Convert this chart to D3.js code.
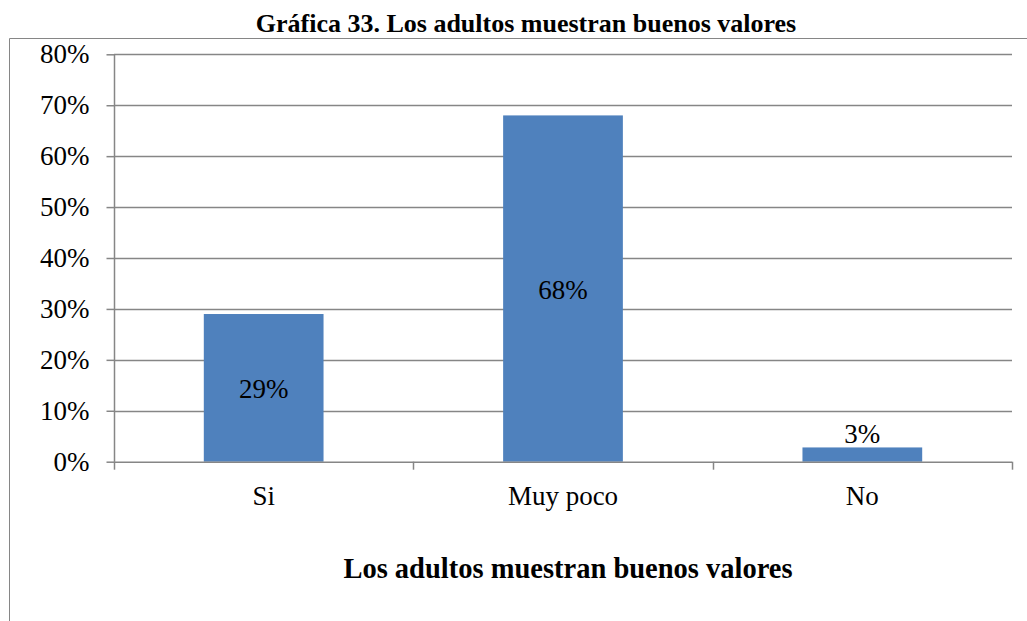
<!DOCTYPE html>
<html><head><meta charset="utf-8">
<script src="https://cdn.jsdelivr.net/npm/d3@7"></script>
<style>body{margin:0;background:#fff}svg{display:block}text{font-family:"Liberation Serif","Times New Roman",serif !important;fill:#000}</style>
</head><body>
<svg id="c" width="1027" height="621" font-family="Liberation Serif, serif"></svg>
<script>
const chartTitle = "Gráfica 33. Los adultos muestran buenos valores";
const axisTitle = "Los adultos muestran buenos valores";
const categories = ["Si", "Muy poco", "No"];
const values = [0.29, 0.68, 0.028];
const yTicks = [0, 0.1, 0.2, 0.3, 0.4, 0.5, 0.6, 0.7, 0.8];

const svg = d3.select("#c");
const m = {left: 114, right: 1012, top: 54.3, bottom: 461.7};
const x = d3.scaleBand().domain(categories).range([m.left, m.right]).paddingInner(0.6).paddingOuter(0.3);
const y = d3.scaleLinear().domain([0, 0.8]).range([m.bottom, m.top]);
const grey = "#868686";
const fmt = d3.format(".0%");
const fs = "27px";
const ff = "'Liberation Serif', 'Times New Roman', serif";

// outer frame
svg.append("path").attr("d", "M9.5,621 V38.5 H1027").attr("fill", "none").attr("stroke", grey).attr("stroke-width", 1);

svg.append("text").attr("x", 526).attr("y", 32).attr("text-anchor", "middle").style("font-family", ff)
  .style("font-weight", "bold").style("font-size", "26px").text(chartTitle);

// gridlines
svg.append("g").selectAll("line").data(yTicks.slice(1)).join("line")
  .attr("x1", m.left).attr("x2", m.right).attr("y1", d => Math.round(y(d)) + 0.5).attr("y2", d => Math.round(y(d)) + 0.5)
  .attr("stroke", grey).attr("stroke-width", 1.5);

// y axis
const ya = svg.append("g").attr("transform", `translate(${m.left + 0.5},0)`)
  .call(d3.axisLeft(y).tickValues(yTicks).tickFormat(fmt).tickSize(8).tickPadding(17));
ya.attr("font-family", null);
ya.select(".domain").attr("stroke", grey).attr("stroke-width", 1.5).attr("d", `M0,${m.top}V${m.bottom}`);
ya.selectAll(".tick line").attr("stroke", grey).attr("stroke-width", 1.5);
ya.selectAll(".tick text").style("font-size", fs).style("font-family", ff).attr("fill", "#000");

// bars
svg.append("g").selectAll("rect").data(values).join("rect")
  .attr("x", (d, i) => x(categories[i])).attr("width", x.bandwidth())
  .attr("y", d => y(d)).attr("height", d => y(0) - y(d)).attr("fill", "#4F81BD");

// x axis
const bounds = [0, 1, 2, 3].map(i => m.left + i * (m.right - m.left) / 3);
const xa = svg.append("g");
xa.append("line").attr("x1", m.left).attr("x2", m.right).attr("y1", y(0) + 0.5).attr("y2", y(0) + 0.5).attr("stroke", grey).attr("stroke-width", 1.5);
xa.selectAll(".tk").data(bounds).join("line").attr("class", "tk")
  .attr("x1", d => Math.round(d) + 0.5).attr("x2", d => Math.round(d) + 0.5).attr("y1", y(0)).attr("y2", y(0) + 8)
  .attr("stroke", grey).attr("stroke-width", 1.5);
xa.selectAll("text").data(categories).join("text")
  .attr("x", d => x(d) + x.bandwidth() / 2).attr("y", 505).attr("text-anchor", "middle")
  .style("font-family", ff).style("font-size", fs).text(d => d);

// data labels
svg.append("g").selectAll("text").data(values).join("text")
  .attr("x", (d, i) => x(categories[i]) + x.bandwidth() / 2)
  .attr("y", d => (y(0) - y(d) > 40) ? (y(d) + y(0)) / 2 + 10 : y(d) - 4)
  .attr("text-anchor", "middle").style("font-family", ff).style("font-size", fs).text(d => fmt(d));

svg.append("text").attr("x", 568).attr("y", 578).attr("text-anchor", "middle").style("font-family", ff)
  .style("font-weight", "bold").style("font-size", "28.5px").text(axisTitle);
</script>
</body></html>
